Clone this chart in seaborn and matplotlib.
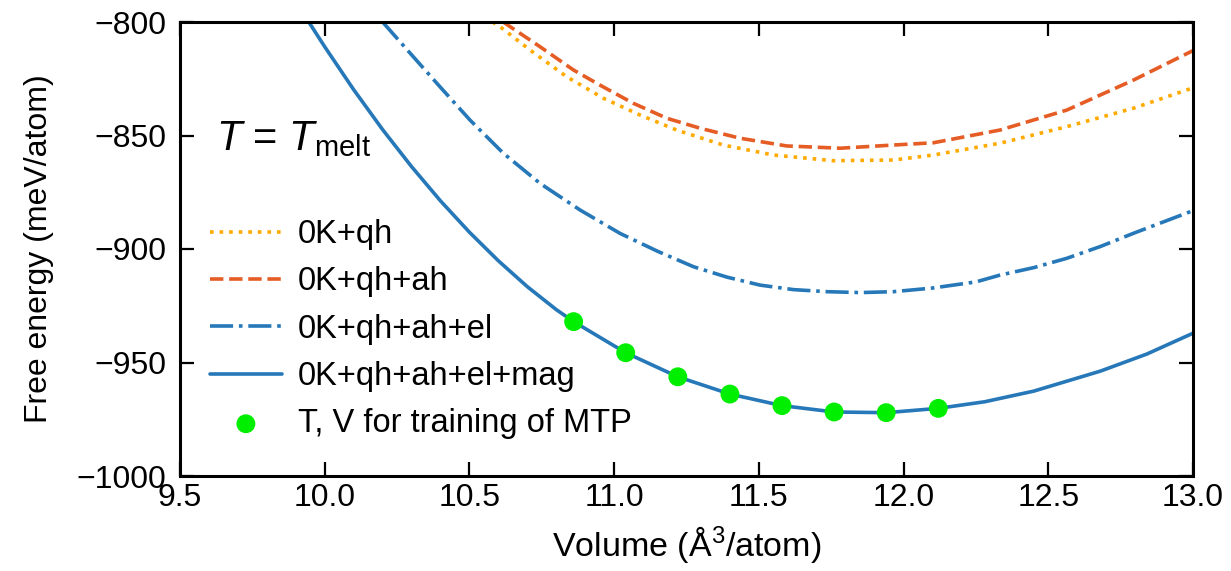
"""Free energy vs volume at the melting temperature."""

import matplotlib

matplotlib.use("Agg")
import matplotlib.pyplot as plt
import seaborn as sns

# values
vol_qh = [10.58, 10.606, 10.709, 10.836, 10.963, 11.09, 11.216, 11.377, 11.55, 11.757,
          11.965, 12.103, 12.333, 12.564, 12.794, 13.0]
f_qh = [-800.0, -802.1, -812.3, -824.1, -833.6, -841.0, -847.6, -854.2, -858.6, -861.1,
        -860.8, -858.6, -853.4, -846.1, -838.0, -829.0]

vol_ah = [10.617, 10.64, 10.744, 10.859, 10.951, 11.066, 11.182, 11.297, 11.435, 11.596,
          11.781, 11.965, 12.103, 12.333, 12.564, 12.794, 13.0]
f_ah = [-800.0, -802.0, -810.9, -821.1, -827.8, -835.8, -842.4, -846.8, -851.2, -854.6,
        -855.6, -854.2, -853.2, -847.6, -838.8, -825.6, -812.6]

vol_el = [10.20, 10.306, 10.398, 10.502, 10.617, 10.744, 10.882, 11.02, 11.15, 11.274,
          11.39, 11.504, 11.62, 11.735, 11.85, 11.965, 12.1, 12.25, 12.333, 12.45, 12.564,
          12.68, 12.794, 13.0]
f_el = [-800.0, -815.3, -828.5, -843.2, -857.8, -871.1, -882.8, -893.1, -901.0, -907.8,
        -912.4, -915.9, -917.9, -918.8, -919.2, -918.8, -917.2, -914.5, -911.5, -908.2,
        -904.1, -898.9, -893.1, -883.1]

vol_mag = [9.945, 10.0, 10.1, 10.2, 10.3, 10.4, 10.5, 10.6, 10.7, 10.8, 10.86, 11.04,
           11.22, 11.40, 11.58, 11.76, 11.94, 12.12, 12.28, 12.45, 12.68, 12.84, 13.0]
f_mag = [-800.0, -810.9, -829.8, -847.4, -863.7, -878.8, -892.6, -905.2, -916.6, -926.7,
         -932.0, -945.7, -956.3, -963.9, -969.0, -971.8, -972.1, -970.2, -967.3, -962.6,
         -953.8, -946.3, -937.1]

vol_mtp = [10.86, 11.04, 11.22, 11.40, 11.58, 11.76, 11.94, 12.12]
f_mtp = [-932.0, -945.7, -956.3, -963.9, -969.0, -971.8, -972.1, -970.2]

labels = ["0K+qh", "0K+qh+ah", "0K+qh+ah+el", "0K+qh+ah+el+mag", "T, V for training of MTP"]
x_ticks = [9.5, 10.0, 10.5, 11.0, 11.5, 12.0, 12.5, 13.0]
y_ticks = [-1000, -950, -900, -850, -800]

sns.set_style("ticks")
plt.rcParams["font.family"] = ["Liberation Sans", "DejaVu Sans"]
plt.rcParams["mathtext.fontset"] = "custom"
plt.rcParams["mathtext.rm"] = "Liberation Sans"
plt.rcParams["mathtext.it"] = "Liberation Sans:italic"
plt.rcParams["font.size"] = 23
for key in ["text.color", "axes.labelcolor", "xtick.color", "ytick.color"]:
    plt.rcParams[key] = "black"

fig = plt.figure(figsize=(12.31, 5.71), dpi=100)
ax = fig.add_axes([180 / 1231, 1 - 476 / 571, 1013 / 1231, 454 / 571])

lw = 2.6
sns.lineplot(x=vol_qh, y=f_qh, ax=ax, color="#ffaa00", lw=lw, ls=":", label=labels[0])
sns.lineplot(x=vol_ah, y=f_ah, ax=ax, color="#e65c25", lw=lw, ls="--", label=labels[1])
sns.lineplot(x=vol_el, y=f_el, ax=ax, color="#2678b8", lw=lw, ls="-.", label=labels[2])
sns.lineplot(x=vol_mag, y=f_mag, ax=ax, color="#2678b8", lw=lw, ls="-", label=labels[3])
sns.scatterplot(x=vol_mtp, y=f_mtp, ax=ax, color="#00ee00", s=185, edgecolor="none",
                zorder=5, label=labels[4])

ax.set_xlim(9.5, 13.0)
ax.set_ylim(-1000, -800)
ax.set_xticks(x_ticks)
ax.set_xticklabels([f"{t:.1f}" for t in x_ticks])
ax.set_yticks(y_ticks)
ax.tick_params(direction="in", length=10, width=1.6, top=True, right=True,
               labelsize=23, colors="black")
ax.tick_params(axis="x", pad=5)
ax.tick_params(axis="y", pad=10)
for side in ax.spines.values():
    side.set_linewidth(2.2)
    side.set_color("black")

ax.set_xlabel("Volume (Å$^3$/atom)", fontsize=24.5, labelpad=8)
ax.set_ylabel("Free energy (meV/atom)", fontsize=23, labelpad=16)

ax.text(0.036, 0.718, r"$T$ = $T_{\mathrm{melt}}$", transform=ax.transAxes,
        fontsize=30, ha="left", va="baseline")

ax.legend(loc="upper left", bbox_to_anchor=(0.0296, 0.566), frameon=False,
          fontsize=23.5, handlelength=2.2, handletextpad=0.5, labelspacing=0.5,
          borderpad=0, borderaxespad=0)

fig.savefig("out.png", dpi=100)
